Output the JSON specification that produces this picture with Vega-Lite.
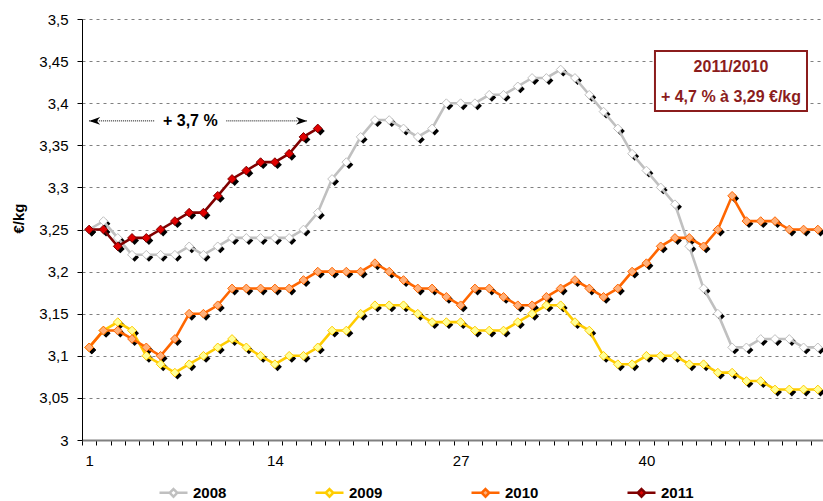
{
  "$schema": "https://vega.github.io/schema/vega-lite/v6.json",
  "width": 743,
  "height": 421,
  "autosize": {"type": "none"},
  "padding": {"left": 82, "top": 19, "right": 0, "bottom": 61},
  "background": "white",
  "config": {
    "view": {"stroke": null},
    "font": "Liberation Sans",
    "axis": {"labelFont": "Liberation Sans", "titleFont": "Liberation Sans", "labelColor": "black", "titleColor": "black", "labelOverlap": false},
    "legend": {"labelFont": "Liberation Sans"}
  },
  "datasets": {
    "series": [
      {"week":1,"year":"2008","price":3.25},{"week":2,"year":"2008","price":3.26},{"week":3,"year":"2008","price":3.24},{"week":4,"year":"2008","price":3.22},{"week":5,"year":"2008","price":3.22},{"week":6,"year":"2008","price":3.22},{"week":7,"year":"2008","price":3.22},{"week":8,"year":"2008","price":3.23},{"week":9,"year":"2008","price":3.22},{"week":10,"year":"2008","price":3.23},{"week":11,"year":"2008","price":3.24},{"week":12,"year":"2008","price":3.24},{"week":13,"year":"2008","price":3.24},{"week":14,"year":"2008","price":3.24},{"week":15,"year":"2008","price":3.24},{"week":16,"year":"2008","price":3.25},{"week":17,"year":"2008","price":3.27},{"week":18,"year":"2008","price":3.31},{"week":19,"year":"2008","price":3.33},{"week":20,"year":"2008","price":3.36},{"week":21,"year":"2008","price":3.38},{"week":22,"year":"2008","price":3.38},{"week":23,"year":"2008","price":3.37},{"week":24,"year":"2008","price":3.36},{"week":25,"year":"2008","price":3.37},{"week":26,"year":"2008","price":3.40},{"week":27,"year":"2008","price":3.40},{"week":28,"year":"2008","price":3.40},{"week":29,"year":"2008","price":3.41},{"week":30,"year":"2008","price":3.41},{"week":31,"year":"2008","price":3.42},{"week":32,"year":"2008","price":3.43},{"week":33,"year":"2008","price":3.43},{"week":34,"year":"2008","price":3.44},{"week":35,"year":"2008","price":3.43},{"week":36,"year":"2008","price":3.41},{"week":37,"year":"2008","price":3.39},{"week":38,"year":"2008","price":3.37},{"week":39,"year":"2008","price":3.34},{"week":40,"year":"2008","price":3.32},{"week":41,"year":"2008","price":3.30},{"week":42,"year":"2008","price":3.28},{"week":43,"year":"2008","price":3.23},{"week":44,"year":"2008","price":3.18},{"week":45,"year":"2008","price":3.15},{"week":46,"year":"2008","price":3.11},{"week":47,"year":"2008","price":3.11},{"week":48,"year":"2008","price":3.12},{"week":49,"year":"2008","price":3.12},{"week":50,"year":"2008","price":3.12},{"week":51,"year":"2008","price":3.11},{"week":52,"year":"2008","price":3.11},
      {"week":1,"year":"2009","price":3.11},{"week":2,"year":"2009","price":3.13},{"week":3,"year":"2009","price":3.14},{"week":4,"year":"2009","price":3.13},{"week":5,"year":"2009","price":3.10},{"week":6,"year":"2009","price":3.09},{"week":7,"year":"2009","price":3.08},{"week":8,"year":"2009","price":3.09},{"week":9,"year":"2009","price":3.10},{"week":10,"year":"2009","price":3.11},{"week":11,"year":"2009","price":3.12},{"week":12,"year":"2009","price":3.11},{"week":13,"year":"2009","price":3.10},{"week":14,"year":"2009","price":3.09},{"week":15,"year":"2009","price":3.10},{"week":16,"year":"2009","price":3.10},{"week":17,"year":"2009","price":3.11},{"week":18,"year":"2009","price":3.13},{"week":19,"year":"2009","price":3.13},{"week":20,"year":"2009","price":3.15},{"week":21,"year":"2009","price":3.16},{"week":22,"year":"2009","price":3.16},{"week":23,"year":"2009","price":3.16},{"week":24,"year":"2009","price":3.15},{"week":25,"year":"2009","price":3.14},{"week":26,"year":"2009","price":3.14},{"week":27,"year":"2009","price":3.14},{"week":28,"year":"2009","price":3.13},{"week":29,"year":"2009","price":3.13},{"week":30,"year":"2009","price":3.13},{"week":31,"year":"2009","price":3.14},{"week":32,"year":"2009","price":3.15},{"week":33,"year":"2009","price":3.16},{"week":34,"year":"2009","price":3.16},{"week":35,"year":"2009","price":3.14},{"week":36,"year":"2009","price":3.13},{"week":37,"year":"2009","price":3.10},{"week":38,"year":"2009","price":3.09},{"week":39,"year":"2009","price":3.09},{"week":40,"year":"2009","price":3.10},{"week":41,"year":"2009","price":3.10},{"week":42,"year":"2009","price":3.10},{"week":43,"year":"2009","price":3.09},{"week":44,"year":"2009","price":3.09},{"week":45,"year":"2009","price":3.08},{"week":46,"year":"2009","price":3.08},{"week":47,"year":"2009","price":3.07},{"week":48,"year":"2009","price":3.07},{"week":49,"year":"2009","price":3.06},{"week":50,"year":"2009","price":3.06},{"week":51,"year":"2009","price":3.06},{"week":52,"year":"2009","price":3.06},
      {"week":1,"year":"2010","price":3.11},{"week":2,"year":"2010","price":3.13},{"week":3,"year":"2010","price":3.13},{"week":4,"year":"2010","price":3.12},{"week":5,"year":"2010","price":3.11},{"week":6,"year":"2010","price":3.10},{"week":7,"year":"2010","price":3.12},{"week":8,"year":"2010","price":3.15},{"week":9,"year":"2010","price":3.15},{"week":10,"year":"2010","price":3.16},{"week":11,"year":"2010","price":3.18},{"week":12,"year":"2010","price":3.18},{"week":13,"year":"2010","price":3.18},{"week":14,"year":"2010","price":3.18},{"week":15,"year":"2010","price":3.18},{"week":16,"year":"2010","price":3.19},{"week":17,"year":"2010","price":3.20},{"week":18,"year":"2010","price":3.20},{"week":19,"year":"2010","price":3.20},{"week":20,"year":"2010","price":3.20},{"week":21,"year":"2010","price":3.21},{"week":22,"year":"2010","price":3.20},{"week":23,"year":"2010","price":3.19},{"week":24,"year":"2010","price":3.18},{"week":25,"year":"2010","price":3.18},{"week":26,"year":"2010","price":3.17},{"week":27,"year":"2010","price":3.16},{"week":28,"year":"2010","price":3.18},{"week":29,"year":"2010","price":3.18},{"week":30,"year":"2010","price":3.17},{"week":31,"year":"2010","price":3.16},{"week":32,"year":"2010","price":3.16},{"week":33,"year":"2010","price":3.17},{"week":34,"year":"2010","price":3.18},{"week":35,"year":"2010","price":3.19},{"week":36,"year":"2010","price":3.18},{"week":37,"year":"2010","price":3.17},{"week":38,"year":"2010","price":3.18},{"week":39,"year":"2010","price":3.20},{"week":40,"year":"2010","price":3.21},{"week":41,"year":"2010","price":3.23},{"week":42,"year":"2010","price":3.24},{"week":43,"year":"2010","price":3.24},{"week":44,"year":"2010","price":3.23},{"week":45,"year":"2010","price":3.25},{"week":46,"year":"2010","price":3.29},{"week":47,"year":"2010","price":3.26},{"week":48,"year":"2010","price":3.26},{"week":49,"year":"2010","price":3.26},{"week":50,"year":"2010","price":3.25},{"week":51,"year":"2010","price":3.25},{"week":52,"year":"2010","price":3.25},
      {"week":1,"year":"2011","price":3.25},{"week":2,"year":"2011","price":3.25},{"week":3,"year":"2011","price":3.23},{"week":4,"year":"2011","price":3.24},{"week":5,"year":"2011","price":3.24},{"week":6,"year":"2011","price":3.25},{"week":7,"year":"2011","price":3.26},{"week":8,"year":"2011","price":3.27},{"week":9,"year":"2011","price":3.27},{"week":10,"year":"2011","price":3.29},{"week":11,"year":"2011","price":3.31},{"week":12,"year":"2011","price":3.32},{"week":13,"year":"2011","price":3.33},{"week":14,"year":"2011","price":3.33},{"week":15,"year":"2011","price":3.34},{"week":16,"year":"2011","price":3.36},{"week":17,"year":"2011","price":3.37}
    ],
    "box": [{"x1": 40.6, "x2": 51.24, "y1": 3.462, "y2": 3.3907}],
    "boxText": [
      {"x": 45.92, "y": 3.443, "label": "2011/2010"},
      {"x": 45.92, "y": 3.4074, "label": "+ 4,7 % à 3,29 €/kg"}
    ],
    "arrowLines": [{"x1": 1, "x2": 5.6, "y": 3.379}, {"x1": 10.6, "x2": 16.25, "y": 3.379}],
    "arrowHeads": [{"x": 1, "y": 3.379, "dir": "left"}, {"x": 16.25, "y": 3.379, "dir": "right"}],
    "arrowText": [{"x": 8.08, "y": 3.379, "label": "+ 3,7 %"}]
  },
  "layer": [
    {
      "data": {"name": "series"},
      "mark": {"type": "point", "filled": true, "opacity": 1, "size": 76, "shape": "M0.6,-0.4L1.6,0.6L0.6,1.6L-0.4,0.6Z", "fill": "black", "strokeWidth": 0},
      "encoding": {
        "x": {"field": "week", "type": "quantitative", "scale": {"domain": [0.5, 52.5], "nice": false, "zero": false},
          "axis": {
            "title": null,
            "values": [0.5,1.5,2.5,3.5,4.5,5.5,6.5,7.5,8.5,9.5,10.5,11.5,12.5,13.5,14.5,15.5,16.5,17.5,18.5,19.5,20.5,21.5,22.5,23.5,24.5,25.5,26.5,27.5,28.5,29.5,30.5,31.5,32.5,33.5,34.5,35.5,36.5,37.5,38.5,39.5,40.5,41.5,42.5,43.5,44.5,45.5,46.5,47.5,48.5,49.5,50.5,51.5,52.5],
            "tickCount": 100,
            "labelExpr": "((datum.value - 0.5) % 13 == 0 && datum.value < 50) ? ('' + (datum.value + 0.5)) : ''",
            "labelOffset": 7.14,
            "labelFlush": false,
            "labelOverlap": false,
            "labelBound": false,
            "labelFontSize": 15,
            "labelPadding": 8,
            "tickSize": 5,
            "tickColor": "black",
            "tickWidth": 1,
            "domainColor": "#808080",
            "domainWidth": 2,
            "grid": false
          }},
        "y": {"field": "price", "type": "quantitative", "scale": {"domain": [3, 3.5], "nice": false, "zero": false},
          "axis": {
            "title": "€/kg",
            "titleFontSize": 15,
            "titleFontWeight": "bold",
            "titleAngle": -90,
            "titleX": -64,
            "titleY": 199,
            "titleAlign": "center",
            "titleBaseline": "middle",
            "values": [3, 3.05, 3.1, 3.15, 3.2, 3.25, 3.3, 3.35, 3.4, 3.45, 3.5],
            "tickCount": 20,
            "labelExpr": "replace(format(datum.value, '.2~f'), '.', ',')",
            "labelFontSize": 15,
            "labelPadding": 9,
            "tickSize": 5,
            "tickColor": "black",
            "domainColor": "black",
            "domainWidth": 1,
            "grid": true,
            "gridColor": "#808080",
            "gridDash": [3, 4],
            "gridWidth": 1
          }},
        "detail": {"field": "year", "type": "nominal"}
      }
    },
    {
      "data": {"name": "series"},
      "mark": {"type": "line", "strokeWidth": 2.6},
      "encoding": {
        "x": {"field": "week", "type": "quantitative", "scale": {"domain": [0.5, 52.5], "nice": false, "zero": false}},
        "y": {"field": "price", "type": "quantitative", "scale": {"domain": [3, 3.5], "nice": false, "zero": false}},
        "stroke": {"field": "year", "type": "nominal",
          "scale": {"domain": ["2008", "2009", "2010", "2011"], "range": ["#C0C0C0", "#FFCC00", "#FF6600", "#800000"]},
          "legend": {"orient": "none", "legendX": 76, "legendY": 458, "direction": "horizontal", "columns": 4, "title": null,
            "symbolType": "M-1,0H-0.27M0.27,0H1M0,-0.27L0.27,0L0,0.27L-0.27,0Z", "symbolSize": 784, "symbolStrokeWidth": 2.5,
            "labelFontSize": 15, "labelFontWeight": "bold", "labelColor": "black", "labelOffset": 4, "columnPadding": 83}}
      }
    },
    {
      "data": {"name": "series"},
      "mark": {"type": "point", "shape": "diamond", "filled": true, "opacity": 1, "size": 76, "strokeWidth": 1},
      "encoding": {
        "x": {"field": "week", "type": "quantitative", "scale": {"domain": [0.5, 52.5], "nice": false, "zero": false}},
        "y": {"field": "price", "type": "quantitative", "scale": {"domain": [3, 3.5], "nice": false, "zero": false}},
        "stroke": {"field": "year", "type": "nominal",
          "scale": {"domain": ["2008", "2009", "2010", "2011"], "range": ["#C0C0C0", "#FFCC00", "#FF6600", "#800000"]},
          "legend": {"orient": "none", "legendX": 76, "legendY": 458, "direction": "horizontal", "columns": 4, "title": null,
            "symbolType": "M-1,0H-0.27M0.27,0H1M0,-0.27L0.27,0L0,0.27L-0.27,0Z", "symbolSize": 784, "symbolStrokeWidth": 2.5,
            "labelFontSize": 15, "labelFontWeight": "bold", "labelColor": "black", "labelOffset": 4, "columnPadding": 83}},
        "fill": {"field": "year", "type": "nominal",
          "scale": {"domain": ["2008", "2009", "2010", "2011"], "range": ["#FFFFFF", "#FFFF99", "#FFB07A", "#E00000"]},
          "legend": {"orient": "none", "legendX": 76, "legendY": 458, "direction": "horizontal", "columns": 4, "title": null,
            "symbolType": "M-1,0H-0.27M0.27,0H1M0,-0.27L0.27,0L0,0.27L-0.27,0Z", "symbolSize": 784, "symbolStrokeWidth": 2.5,
            "labelFontSize": 15, "labelFontWeight": "bold", "labelColor": "black", "labelOffset": 4, "columnPadding": 83}}
      }
    },
    {
      "data": {"name": "box"},
      "mark": {"type": "rect", "fill": "white", "stroke": "#8B1C1C", "strokeWidth": 2},
      "encoding": {
        "x": {"field": "x1", "type": "quantitative", "scale": {"domain": [0.5, 52.5], "nice": false, "zero": false}},
        "x2": {"field": "x2"},
        "y": {"field": "y1", "type": "quantitative", "scale": {"domain": [3, 3.5], "nice": false, "zero": false}},
        "y2": {"field": "y2"}
      }
    },
    {
      "data": {"name": "boxText"},
      "mark": {"type": "text", "color": "#8B1C1C", "fontWeight": "bold", "fontSize": 16, "align": "center", "baseline": "middle", "font": "Liberation Sans"},
      "encoding": {
        "x": {"field": "x", "type": "quantitative", "scale": {"domain": [0.5, 52.5], "nice": false, "zero": false}},
        "y": {"field": "y", "type": "quantitative", "scale": {"domain": [3, 3.5], "nice": false, "zero": false}},
        "text": {"field": "label"}
      }
    },
    {
      "data": {"name": "arrowLines"},
      "mark": {"type": "rule", "color": "black", "strokeWidth": 1, "strokeDash": [1, 1]},
      "encoding": {
        "x": {"field": "x1", "type": "quantitative", "scale": {"domain": [0.5, 52.5], "nice": false, "zero": false}},
        "x2": {"field": "x2"},
        "y": {"field": "y", "type": "quantitative", "scale": {"domain": [3, 3.5], "nice": false, "zero": false}}
      }
    },
    {
      "data": {"name": "arrowHeads"},
      "mark": {"type": "point", "filled": true, "opacity": 1, "size": 121, "fill": "black", "strokeWidth": 0},
      "encoding": {
        "x": {"field": "x", "type": "quantitative", "scale": {"domain": [0.5, 52.5], "nice": false, "zero": false}},
        "y": {"field": "y", "type": "quantitative", "scale": {"domain": [3, 3.5], "nice": false, "zero": false}},
        "shape": {"field": "dir", "type": "nominal", "scale": {"domain": ["left", "right"], "range": ["M0,0L2,-0.7L1.4,0L2,0.7Z", "M0,0L-2,-0.7L-1.4,0L-2,0.7Z"]}, "legend": null}
      }
    },
    {
      "data": {"name": "arrowText"},
      "mark": {"type": "text", "color": "black", "fontWeight": "bold", "fontSize": 16, "align": "center", "baseline": "middle", "font": "Liberation Sans"},
      "encoding": {
        "x": {"field": "x", "type": "quantitative", "scale": {"domain": [0.5, 52.5], "nice": false, "zero": false}},
        "y": {"field": "y", "type": "quantitative", "scale": {"domain": [3, 3.5], "nice": false, "zero": false}},
        "text": {"field": "label"}
      }
    }
  ]
}
